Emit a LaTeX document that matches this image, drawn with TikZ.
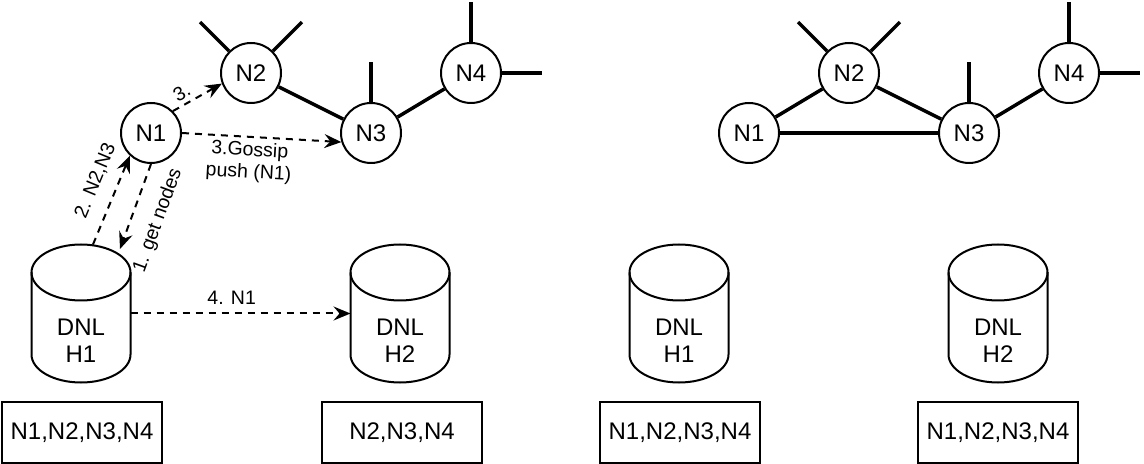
\documentclass[tikz,border=0pt]{standalone}
\usepackage{fontspec}
\setmainfont{Liberation Sans}
\usetikzlibrary{calc,arrows.meta}
\tikzset{
	peer/.style={circle, draw, line width=1pt, minimum size=30pt, inner sep=0pt, font=\fontsize{12}{13.5}\selectfont},
	dnl/.style={rectangle, minimum width=49.5pt, minimum height=69pt, inner sep=0pt, outer sep=0pt},
	dnltext/.style={align=center, inner sep=0pt, font=\fontsize{12}{13.5}\selectfont},
	nodelist/.style={rectangle, draw, line width=1pt, minimum width=80pt, minimum height=30.5pt, inner sep=0pt, font=\fontsize{12}{13.5}\selectfont},
	link/.style={line width=1.75pt},
	msg/.style={line width=1pt, dash pattern=on 3.5pt off 3pt, -{Stealth[length=8.5pt,width=7pt,inset=3pt]}},
	msglabel/.style={font=\fontsize{9.75}{11}\selectfont, inner sep=1pt}
}
\def\dnlcyl(#1){\draw[line width=1pt] ($(#1.north)+(0,28)$) ellipse (24.75pt and 14pt);
	\draw[line width=1pt] ($(#1.north west)+(0,28)$) -- ($(#1.south west)+(0,-28)$) arc (180:360:24.75pt and 14pt) -- ($(#1.north east)+(0,28)$);}

\begin{document}
\begin{tikzpicture}[x=0.5pt,y=-0.5pt]
		%%%%% START %%%%%
		\useasboundingbox (0,0) rectangle (1144,464);
		
		% left: before the push
		\node[peer] (n1) at (151,133) {N1};
		\node[peer] (n2) at (251,73) {N2};
		\node[peer] (n3) at (371,133) {N3};
		\node[peer] (n4) at (471,73) {N4};
		
		\draw[link] (n2) -- (n3);
		\draw[link] (n3) -- (n4);
		\draw[link] (n2.135) -- ++(-29,-29);
		\draw[link] (n2.45) -- ++(29,-29);
		\draw[link] (n3.north) -- ++(0,-40);
		\draw[link] (n4.north) -- ++(0,-40);
		\draw[link] (n4.east) -- ++(40,0);
		
		\node[dnl] (h1) at (81,313.5) {};
		\node[dnltext] (h1txt) at ($(h1)+(0,27)$) {DNL\\H1};
		\dnlcyl(h1)
		\node[dnl] (h2) at (400,313.5) {};
		\node[dnltext] (h2txt) at ($(h2)+(0,27)$) {DNL\\H2};
		\dnlcyl(h2)
		
		\node[nodelist] (b1) at (82,432.5) {N1,N2,N3,N4};
		\node[nodelist] (b2) at (402,432.5) {N2,N3,N4};
		
		\coordinate (h1a) at ($(h1.north)+(12,0)$);
		\coordinate (h1b) at ($(h1.north)+(39,4.5)$);
		\draw[msg] (n1.south) -- node[msglabel, pos=0.56, below=7pt, sloped] (l1) {1. get nodes} (h1b);
		\draw[msg] (h1a) -- node[msglabel, pos=0.62, above=5.5pt, sloped] (l2) {2. N2,N3} (n1.227);
		\draw[msg] (n1.45) -- node[msglabel, pos=0.3, above=1pt, sloped] (l3a) {3.} (n2.200);
		\draw[msg] (n1.east) -- node[msglabel, pos=0.43, below=1pt, sloped, align=center] (l3b) {3.Gossip\\push (N1)} (n3.197);
		\draw[msg] (h1.east) -- node[msglabel, pos=0.46, above=3pt] (l4) {4. N1} (h2.west);
		
		% right: after the push
		\node[peer] (m1) at (749,133) {N1};
		\node[peer] (m2) at (849,73) {N2};
		\node[peer] (m3) at (969,133) {N3};
		\node[peer] (m4) at (1069,73) {N4};
		
		\draw[link] (m1) -- (m2);
		\draw[link] (m1) -- (m3);
		\draw[link] (m2) -- (m3);
		\draw[link] (m3) -- (m4);
		\draw[link] (m2.135) -- ++(-29,-29);
		\draw[link] (m2.45) -- ++(29,-29);
		\draw[link] (m3.north) -- ++(0,-40);
		\draw[link] (m4.north) -- ++(0,-40);
		\draw[link] (m4.east) -- ++(40,0);
		
		\node[dnl] (k1) at (679,313.5) {};
		\node[dnltext] (k1txt) at ($(k1)+(0,27)$) {DNL\\H1};
		\dnlcyl(k1)
		\node[dnl] (k2) at (998,313.5) {};
		\node[dnltext] (k2txt) at ($(k2)+(0,27)$) {DNL\\H2};
		\dnlcyl(k2)
		
		\node[nodelist] (b3) at (680,432.5) {N1,N2,N3,N4};
		\node[nodelist] (b4) at (998,432.5) {N1,N2,N3,N4};
		
		%%%%% END %%%%%
	\end{tikzpicture}
\end{document}
